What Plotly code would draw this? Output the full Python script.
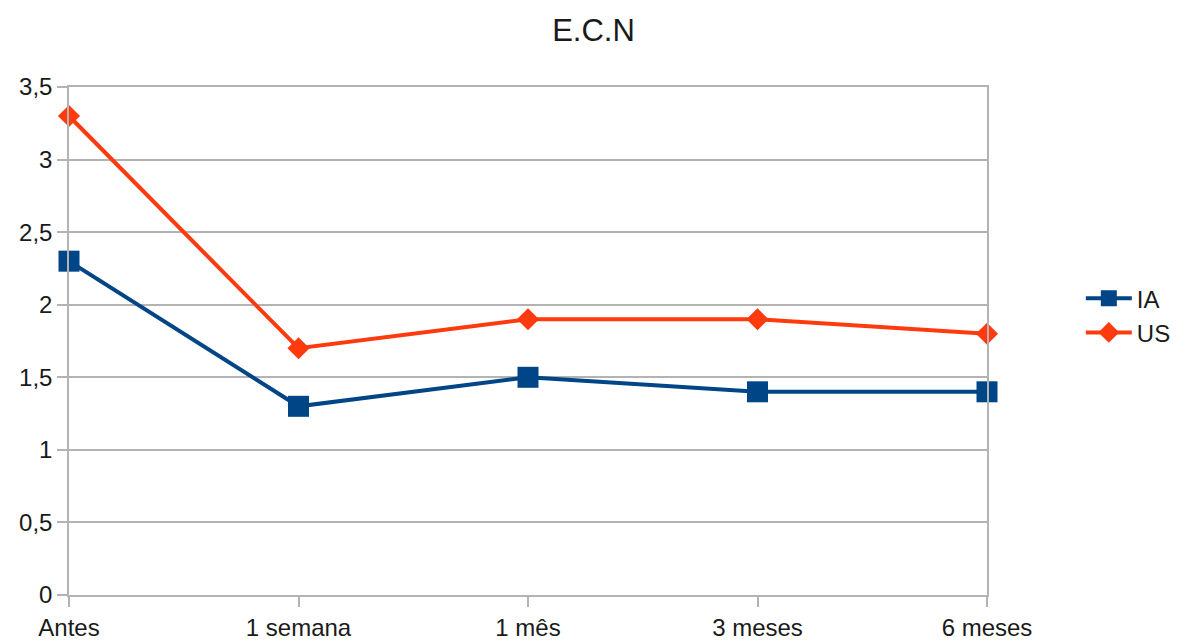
import plotly.graph_objects as go

categories = ["Antes", "1 semana", "1 mês", "3 meses", "6 meses"]
ia_values = [2.3, 1.3, 1.5, 1.4, 1.4]
us_values = [3.3, 1.7, 1.9, 1.9, 1.8]
y_ticks = [0, 0.5, 1, 1.5, 2, 2.5, 3, 3.5]
y_ticklabels = ["0", "0,5", "1", "1,5", "2", "2,5", "3", "3,5"]

x = list(range(len(categories)))

fig = go.Figure()
fig.add_trace(go.Scatter(
    x=x, y=ia_values, name="IA", mode="lines+markers",
    line=dict(color="#004586", width=4),
    marker=dict(symbol="square", size=21, color="#004586"),
    cliponaxis=False,
))
fig.add_trace(go.Scatter(
    x=x, y=us_values, name="US", mode="lines+markers",
    line=dict(color="#ff3a0e", width=4),
    marker=dict(symbol="diamond", size=17, color="#ff3a0e"),
    cliponaxis=False,
))

grid = "#b3b3b3"
fig.update_layout(
    width=1187, height=641,
    margin=dict(l=69, r=199, t=87, b=46),
    paper_bgcolor="white", plot_bgcolor="white",
    font=dict(family="Liberation Sans, Arial, sans-serif", size=24, color="#1a1a1a"),
    title=dict(text="E.C.N", x=0.5, xanchor="center", y=0.953, yanchor="middle",
               font=dict(size=31, color="#1a1a1a")),
    legend=dict(x=1.101, xanchor="left", y=0.55, yanchor="middle",
                font=dict(size=24), tracegroupgap=0, itemwidth=46,
                bgcolor="rgba(0,0,0,0)"),
    showlegend=True,
)
fig.update_xaxes(
    range=[0, 4], tickvals=x, ticktext=categories,
    showgrid=False, zeroline=False, automargin=False,
    showline=True, linecolor=grid, linewidth=1.5, mirror=True,
    ticks="outside", ticklen=10, tickcolor=grid, tickwidth=1.5,
    tickfont=dict(size=24), fixedrange=True,
)
fig.update_yaxes(
    range=[0, 3.5], tickvals=y_ticks, ticktext=y_ticklabels,
    showgrid=True, gridcolor=grid, gridwidth=1.5, zeroline=False, automargin=False,
    showline=True, linecolor=grid, linewidth=1.5, mirror=True,
    ticks="outside", ticklen=10, tickcolor=grid, tickwidth=1.5,
    tickfont=dict(size=24), fixedrange=True,
)

fig.write_html("out.html", config={"displayModeBar": False},
               post_script="document.body.style.margin='0';document.body.style.overflow='hidden';")
